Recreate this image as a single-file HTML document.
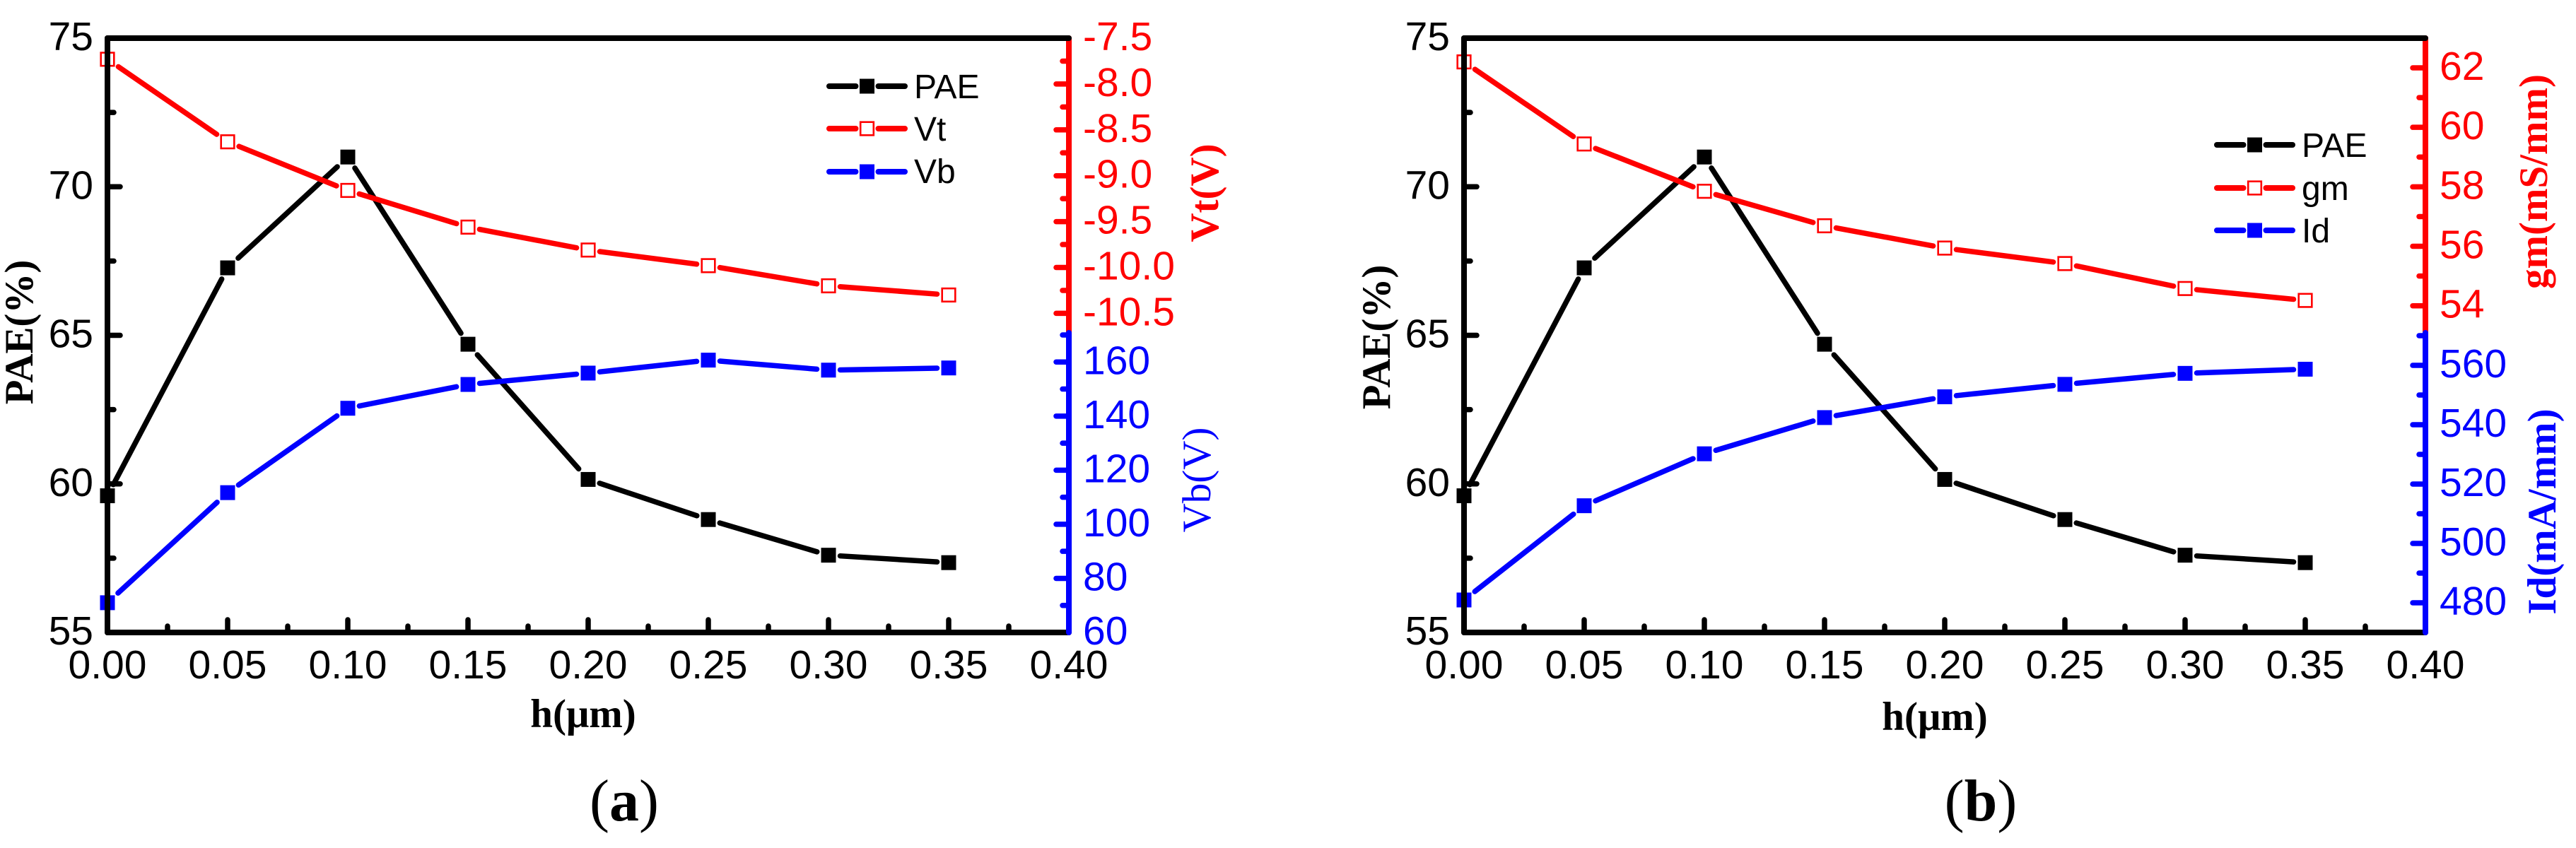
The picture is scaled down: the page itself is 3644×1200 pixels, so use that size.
<!DOCTYPE html>
<html lang="en">
<head>
<meta charset="utf-8">
<title>PAE versus h charts</title>
<style>
html,body{margin:0;padding:0;background:#fff;}
svg{display:block;}
.tick{font-family:"Liberation Sans",Arial,sans-serif;font-size:57px;}
.legend{font-family:"Liberation Sans",Arial,sans-serif;font-size:48px;fill:#000;}
.title{font-family:"Liberation Serif","Times New Roman",serif;font-size:57px;font-weight:bold;}
.caption{font-family:"Liberation Serif","Times New Roman",serif;font-size:84px;}
</style>
</head>
<body>
<svg id="figure" xmlns="http://www.w3.org/2000/svg" width="3644" height="1200" viewBox="0 0 3644 1200">
<rect width="3644" height="1200" fill="#fff"/>
<g id="panel-a"></g>
<g id="panel-b"></g>

<text class="title" fill="#000" text-anchor="middle" transform="translate(46,470) rotate(-90)">PAE(%)</text>
<text class="title" fill="#000" text-anchor="middle" x="825" y="1029">h(μm)</text>
<text class="title" fill="#f00" text-anchor="middle" transform="translate(1723,273) rotate(-90)">Vt(V)</text>
<text class="title" style="font-weight:normal" fill="#00f" text-anchor="middle" transform="translate(1712,679) rotate(-90)">Vb(V)</text>
<text class="caption" fill="#000" text-anchor="middle" x="883" y="1161">(<tspan font-weight="bold">a</tspan>)</text>

<text class="title" fill="#000" text-anchor="middle" transform="translate(1966,477) rotate(-90)">PAE(%)</text>
<text class="title" fill="#000" text-anchor="middle" x="2737" y="1033">h(μm)</text>
<text class="title" fill="#f00" text-anchor="middle" transform="translate(3603,257) rotate(-90)">gm(mS/mm)</text>
<text class="title" fill="#00f" text-anchor="middle" transform="translate(3615,724) rotate(-90)">Id(mA/mm)</text>
<text class="caption" fill="#000" text-anchor="middle" x="2802" y="1161">(<tspan font-weight="bold">b</tspan>)</text>
</svg>

<script>
// ---- data ----
const hValues = [0, 0.05, 0.10, 0.15, 0.20, 0.25, 0.30, 0.35];
const paeValues = [59.6, 67.27, 71.0, 64.7, 60.15, 58.8, 57.6, 57.35];
const vtValues = [-7.73, -8.63, -9.16, -9.56, -9.81, -9.98, -10.20, -10.30];
const vbValues = [71, 111.7, 142.9, 151.7, 155.9, 160.7, 157, 157.8];
const gmValues = [62.2, 59.44, 57.85, 56.69, 55.94, 55.42, 54.58, 54.18];
const idValues = [480.95, 512.7, 530.2, 542.4, 549.4, 553.6, 557.3, 558.7];

const xTickValues = [0, 0.05, 0.10, 0.15, 0.20, 0.25, 0.30, 0.35, 0.40];
const xTickLabels = ['0.00', '0.05', '0.10', '0.15', '0.20', '0.25', '0.30', '0.35', '0.40'];
const xMinorValues = [0.025, 0.075, 0.125, 0.175, 0.225, 0.275, 0.325, 0.375];
const paeTickValues = [55, 60, 65, 70, 75];
const paeMinorValues = [57.5, 62.5, 67.5, 72.5];
const vtTickValues = [-7.5, -8, -8.5, -9, -9.5, -10, -10.5];
const vtTickLabels = ['-7.5', '-8.0', '-8.5', '-9.0', '-9.5', '-10.0', '-10.5'];
const vtMinorValues = [-7.75, -8.25, -8.75, -9.25, -9.75, -10.25];
const vbTickValues = [60, 80, 100, 120, 140, 160];
const vbMinorValues = [70, 90, 110, 130, 150, 170];
const gmTickValues = [54, 56, 58, 60, 62];
const gmMinorValues = [55, 57, 59, 61];
const idTickValues = [480, 500, 520, 540, 560];
const idMinorValues = [470, 490, 510, 530, 550, 570];

const legendNamesA = ['PAE', 'Vt', 'Vb'];
const legendNamesB = ['PAE', 'gm', 'Id'];

const NS = 'http://www.w3.org/2000/svg';
const BLACK = '#000', RED = '#f00', BLUE = '#00f';
const TOP = 54, BOTTOM = 895, SPLIT = 471;

function make(parent, tag, attrs) {
  const el = document.createElementNS(NS, tag);
  for (const k in attrs) el.setAttribute(k, attrs[k]);
  parent.appendChild(el);
  return el;
}
function linear(d0, d1, r0, r1) {
  return function (v) { return r0 + (v - d0) * (r1 - r0) / (d1 - d0); };
}
function drawSegment(parent, name, x1, y1, x2, y2, color, width) {
  const el = make(parent, 'line', {x1: x1, y1: y1, x2: x2, y2: y2, stroke: color, 'stroke-width': width, 'stroke-linecap': 'round'});
  
  
  return el;
}
function drawMarker(parent, name, cx, cy, color, open) {
  const half = open ? 9.3 : 10.5;
  const el = make(parent, 'rect', {
    x: cx - half, y: cy - half, width: half * 2, height: half * 2,
    fill: open ? '#fff' : color, stroke: open ? color : 'none', 'stroke-width': open ? 2.6 : 0
  });
  
  
  return el;
}
function drawSeries(parent, name, xs, ys, xScale, yScale, color, open) {
  const group = make(parent, 'g', {});
  
  
  const hw = 10.5, gap = 6;
  for (let i = 0; i < xs.length - 1; i++) {
    const ax = xScale(xs[i]), ay = yScale(ys[i]), bx = xScale(xs[i + 1]), by = yScale(ys[i + 1]);
    const dx = bx - ax, dy = by - ay, len = Math.hypot(dx, dy);
    const t = Math.min(hw / Math.abs(dx || 1e-6), hw / Math.abs(dy || 1e-6));
    const cut = t + gap / len;
    drawSegment(group, name + '-line-segment',
      ax + dx * cut, ay + dy * cut, bx - dx * cut, by - dy * cut, color, 7.5);
  }
  xs.forEach(function (x, i) {
    drawMarker(group, name + '-point', xScale(x), yScale(ys[i]), color, open);
  });
}
function drawTicksV(parent, name, values, scale, x, dir, len, color) {
  values.forEach(function (v) {
    const y = scale(v);
    const el = drawSegment(parent, name, x, y, x + dir * (len - 4), y, color, 7.5);
    el.setAttribute('data-value', v);
  });
}
function drawTicksH(parent, name, values, scale, y, len) {
  values.forEach(function (v) {
    const x = scale(v);
    const el = drawSegment(parent, name, x, y, x, y - (len - 4), BLACK, 7.5);
    el.setAttribute('data-value', v);
  });
}
function drawLabel(parent, name, text, x, y, anchor, color, cls) {
  const el = make(parent, 'text', {x: x, y: y, 'text-anchor': anchor, fill: color, 'class': cls});
  el.textContent = text;
  
  
  return el;
}
function drawLegend(parent, names, colors, opens, x0, x1, ys, textX, baselines) {
  names.forEach(function (n, i) {
    const g = make(parent, 'g', {});
    
    
    const cx = (x0 + x1) / 2;
    drawSegment(g, 'legend-line-' + n.toLowerCase(), x0 + 4, ys[i], cx - 16, ys[i], colors[i], 8);
    drawSegment(g, 'legend-line-' + n.toLowerCase(), cx + 16, ys[i], x1 - 4, ys[i], colors[i], 8);
    drawMarker(g, 'legend-marker-' + n.toLowerCase(), cx, ys[i], colors[i], opens[i]);
    drawLabel(g, 'legend-label-' + n.toLowerCase(), n, textX, baselines[i], 'start', BLACK, 'legend');
  });
}

function drawPanel(cfg) {
  const root = document.getElementById(cfg.id);
  const L = cfg.left, R = cfg.left + 1360;
  const x = linear(0, 0.4, L, R);
  const yP = linear(55, 75, BOTTOM, TOP);

  // series are drawn under the axes
  drawSeries(root, 'pae', hValues, paeValues, x, yP, BLACK, false);
  drawSeries(root, cfg.upperName, hValues, cfg.upperValues, x, cfg.upperScale, RED, true);
  drawSeries(root, cfg.lowerName, hValues, cfg.lowerValues, x, cfg.lowerScale, BLUE, false);

  // ticks
  drawTicksH(root, 'x-major-tick', xTickValues.slice(1, -1), x, BOTTOM, 22);
  drawTicksH(root, 'x-minor-tick', xMinorValues, x, BOTTOM, 13);
  drawTicksV(root, 'pae-major-tick', paeTickValues.slice(1, -1), yP, L, 1, 22, BLACK);
  drawTicksV(root, 'pae-minor-tick', paeMinorValues, yP, L, 1, 13, BLACK);
  drawTicksV(root, cfg.upperName + '-major-tick', cfg.upperTicks, cfg.upperScale, R, -1, 22, RED);
  drawTicksV(root, cfg.upperName + '-minor-tick', cfg.upperMinor, cfg.upperScale, R, -1, 13, RED);
  drawTicksV(root, cfg.lowerName + '-major-tick', cfg.lowerTicks, cfg.lowerScale, R, -1, 22, BLUE);
  drawTicksV(root, cfg.lowerName + '-minor-tick', cfg.lowerMinor, cfg.lowerScale, R, -1, 13, BLUE);

  // axis lines
  drawSegment(root, 'x-axis-line', L, BOTTOM, R, BOTTOM, BLACK, 8);
  drawSegment(root, 'left-axis-line', L, TOP, L, BOTTOM, BLACK, 8);
  drawSegment(root, 'upper-right-axis-line', R, TOP, R, SPLIT, RED, 8);
  drawSegment(root, 'lower-right-axis-line', R, SPLIT, R, BOTTOM, BLUE, 8);
  drawSegment(root, 'top-axis-line', L, TOP, R, TOP, BLACK, 8);

  // tick labels
  xTickValues.forEach(function (v, i) {
    drawLabel(root, 'x-tick-label', xTickLabels[i], x(v), 960, 'middle', BLACK, 'tick');
  });
  paeTickValues.forEach(function (v) {
    drawLabel(root, 'pae-tick-label', String(v), L - 20, yP(v) + 17, 'end', BLACK, 'tick');
  });
  cfg.upperTicks.forEach(function (v, i) {
    drawLabel(root, cfg.upperName + '-tick-label', cfg.upperLabels ? cfg.upperLabels[i] : String(v),
      R + 20, cfg.upperScale(v) + 17, 'start', RED, 'tick');
  });
  cfg.lowerTicks.forEach(function (v) {
    drawLabel(root, cfg.lowerName + '-tick-label', String(v),
      R + 20, cfg.lowerScale(v) + 17, 'start', BLUE, 'tick');
  });

  drawLegend(root, cfg.legend, [BLACK, RED, BLUE], [false, true, false],
    cfg.legendX0, cfg.legendX1, cfg.legendY, cfg.legendTextX, cfg.legendBase);
}

drawPanel({
  id: 'panel-a', left: 152,
  upperName: 'vt', upperValues: vtValues, upperTicks: vtTickValues, upperLabels: vtTickLabels, upperMinor: vtMinorValues,
  upperScale: linear(-7.5, -10.5, TOP, TOP + 389.4),
  lowerName: 'vb', lowerValues: vbValues, lowerTicks: vbTickValues, lowerMinor: vbMinorValues,
  lowerScale: linear(60, 170, BOTTOM, 474),
  legend: legendNamesA, legendX0: 1169, legendX1: 1284,
  legendY: [122, 182, 243], legendTextX: 1293, legendBase: [139, 199, 259]
});

drawPanel({
  id: 'panel-b', left: 2071,
  upperName: 'gm', upperValues: gmValues, upperTicks: gmTickValues, upperMinor: gmMinorValues,
  upperScale: linear(54, 62, 432.7, 96),
  lowerName: 'id', lowerValues: idValues, lowerTicks: idTickValues, lowerMinor: idMinorValues,
  lowerScale: linear(470, 570, BOTTOM, 475),
  legend: legendNamesB, legendX0: 3132, legendX1: 3247,
  legendY: [205, 266, 326], legendTextX: 3256, legendBase: [222, 283, 343]
});
</script>
</body>
</html>
